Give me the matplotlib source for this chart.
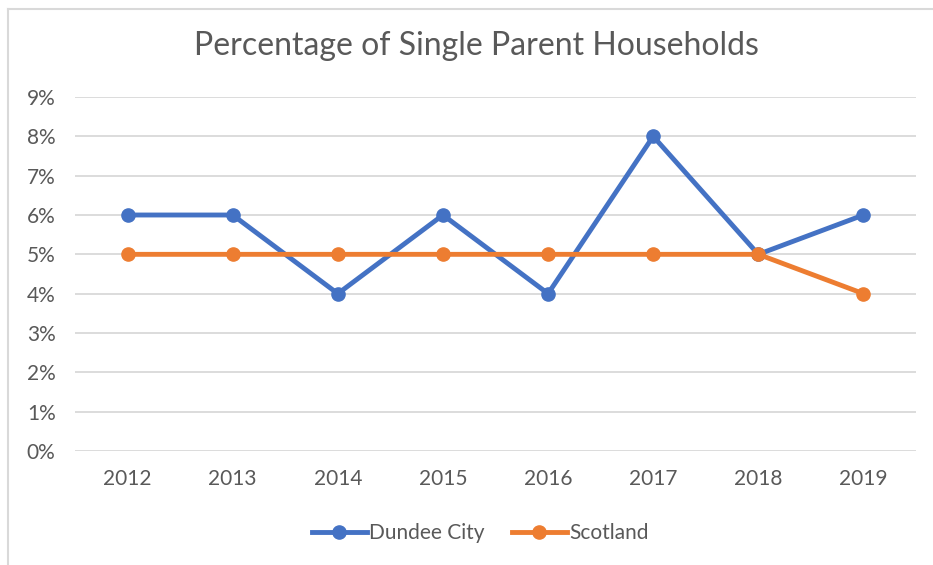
import matplotlib
matplotlib.use('Agg')
import matplotlib.pyplot as plt
import matplotlib.ticker as ticker
from matplotlib.lines import Line2D

years = ['2012', '2013', '2014', '2015', '2016', '2017', '2018', '2019']
dundee = [6, 6, 4, 6, 4, 8, 5, 6]
scotland = [5, 5, 5, 5, 5, 5, 5, 4]

plt.rcParams['font.family'] = ['Lato', 'DejaVu Sans']
grey = '#595959'

fig = plt.figure(figsize=(9.33, 5.65), dpi=100)
ax = fig.add_axes([0.0804, 0.2018, 0.9014, 0.6265])

x = range(len(years))
ax.plot(x, dundee, color='#4472C4', linewidth=3.5, marker='o', markersize=9.5,
        label='Dundee City', zorder=3)
ax.plot(x, scotland, color='#ED7D31', linewidth=3.5, marker='o', markersize=9.5,
        label='Scotland', zorder=3)

# 軸
ax.set_xlim(-0.5, len(years) - 0.5)
ax.set_ylim(0, 9)
ax.set_xticks(list(x))
ax.set_xticklabels(years)
ax.yaxis.set_major_locator(ticker.MultipleLocator(1))
ax.yaxis.set_major_formatter(ticker.FuncFormatter(lambda v, p: f'{v:.0f}%'))
ax.tick_params(length=0, labelsize=15, colors=grey, pad=13)
ax.tick_params(axis='y', pad=14)
ax.grid(axis='y', color='#D9D9D9', linewidth=1.3)
ax.set_axisbelow(True)
for s in ax.spines.values():
    s.set_visible(False)

fig.text(0.511, 0.918, 'Percentage of Single Parent Households', ha='center',
         va='center', fontsize=23, color=grey)

leg = fig.legend(loc='center', bbox_to_anchor=(0.5145, 0.057), ncol=2, frameon=False,
                 fontsize=15, handlelength=2.65, handletextpad=0.1, columnspacing=1.3)
for t in leg.get_texts():
    t.set_color(grey)

# 外枠
fig.add_artist(Line2D([0.0086, 0.0086], [0, 1 - 9 / 565], color='#D9D9D9', linewidth=1.5))
fig.add_artist(Line2D([0.0086, 1], [1 - 9 / 565, 1 - 9 / 565], color='#D9D9D9', linewidth=1.5))

fig.savefig('out.png', dpi=100)
